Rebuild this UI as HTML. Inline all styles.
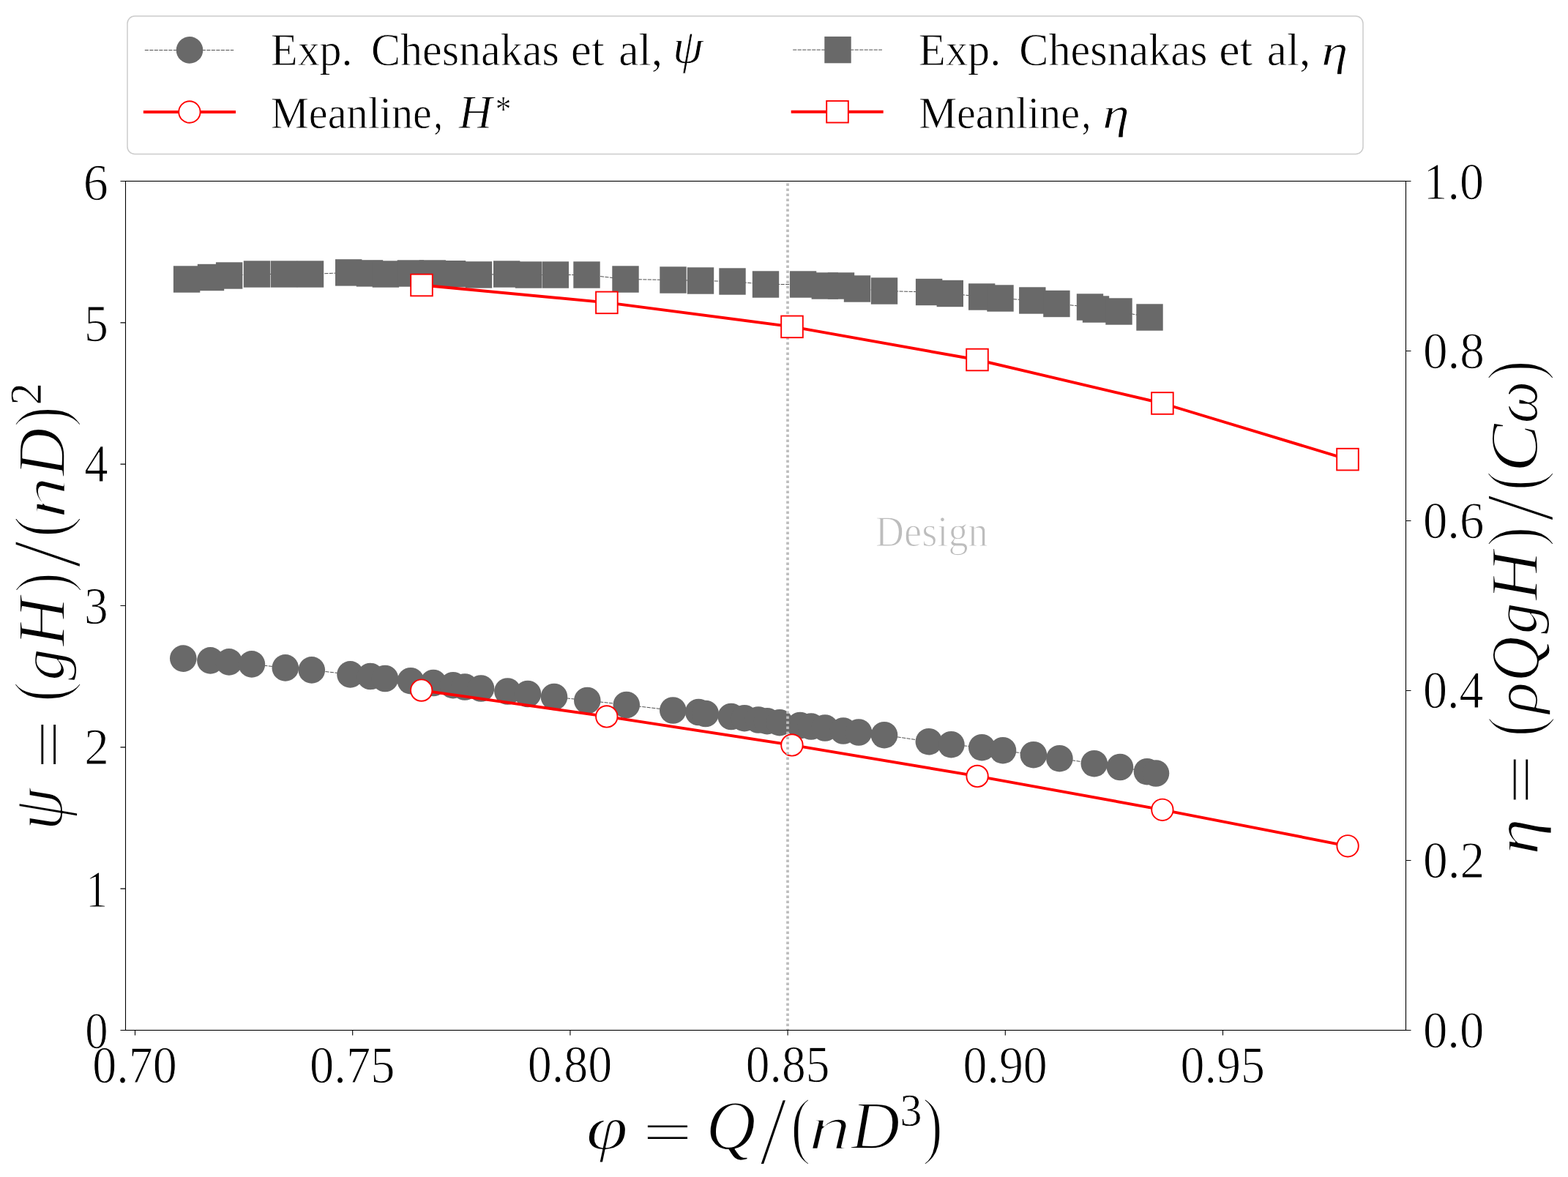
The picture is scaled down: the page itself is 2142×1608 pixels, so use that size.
<!DOCTYPE html><html><head><meta charset="utf-8"><title>plot</title><style>html,body{margin:0;padding:0;background:#fff;overflow:hidden}svg{display:block}text{font-family:"Liberation Serif",serif;text-rendering:geometricPrecision}</style></head><body>
<svg width="2142" height="1608" viewBox="0 0 2142 1608">
<rect width="2142" height="1608" fill="#fff"/>
<polyline points="250.3,899.6 287.4,902.4 312.9,904.4 343.9,907.4 389.8,912.4 425.8,915.4 478.5,921.4 506.0,924.0 526.0,927.0 561.0,930.2 592.0,933.0 619.0,936.2 635.0,938.5 657.0,940.5 693.4,944.5 721.0,948.0 757.0,952.0 802.3,957.0 855.8,963.0 919.3,970.5 954.3,973.0 963.8,975.0 998.8,979.0 1017.0,981.2 1036.0,983.5 1048.0,985.2 1065.0,987.2 1093.0,991.0 1108.0,992.5 1127.0,994.5 1152.0,998.5 1173.0,1000.5 1208.0,1004.2 1268.9,1013.2 1299.4,1017.2 1341.3,1021.2 1370.0,1025.2 1411.9,1031.2 1447.4,1036.2 1494.8,1043.2 1530.0,1048.0 1567.0,1054.2 1579.0,1056.5" fill="none" stroke="#505050" stroke-width="1.0" stroke-dasharray="5.1 1.4"/>
<g fill="#696969"><circle cx="250.3" cy="899.6" r="18.3"/><circle cx="287.4" cy="902.4" r="18.3"/><circle cx="312.9" cy="904.4" r="18.3"/><circle cx="343.9" cy="907.4" r="18.3"/><circle cx="389.8" cy="912.4" r="18.3"/><circle cx="425.8" cy="915.4" r="18.3"/><circle cx="478.5" cy="921.4" r="18.3"/><circle cx="506.0" cy="924.0" r="18.3"/><circle cx="526.0" cy="927.0" r="18.3"/><circle cx="561.0" cy="930.2" r="18.3"/><circle cx="592.0" cy="933.0" r="18.3"/><circle cx="619.0" cy="936.2" r="18.3"/><circle cx="635.0" cy="938.5" r="18.3"/><circle cx="657.0" cy="940.5" r="18.3"/><circle cx="693.4" cy="944.5" r="18.3"/><circle cx="721.0" cy="948.0" r="18.3"/><circle cx="757.0" cy="952.0" r="18.3"/><circle cx="802.3" cy="957.0" r="18.3"/><circle cx="855.8" cy="963.0" r="18.3"/><circle cx="919.3" cy="970.5" r="18.3"/><circle cx="954.3" cy="973.0" r="18.3"/><circle cx="963.8" cy="975.0" r="18.3"/><circle cx="998.8" cy="979.0" r="18.3"/><circle cx="1017.0" cy="981.2" r="18.3"/><circle cx="1036.0" cy="983.5" r="18.3"/><circle cx="1048.0" cy="985.2" r="18.3"/><circle cx="1065.0" cy="987.2" r="18.3"/><circle cx="1093.0" cy="991.0" r="18.3"/><circle cx="1108.0" cy="992.5" r="18.3"/><circle cx="1127.0" cy="994.5" r="18.3"/><circle cx="1152.0" cy="998.5" r="18.3"/><circle cx="1173.0" cy="1000.5" r="18.3"/><circle cx="1208.0" cy="1004.2" r="18.3"/><circle cx="1268.9" cy="1013.2" r="18.3"/><circle cx="1299.4" cy="1017.2" r="18.3"/><circle cx="1341.3" cy="1021.2" r="18.3"/><circle cx="1370.0" cy="1025.2" r="18.3"/><circle cx="1411.9" cy="1031.2" r="18.3"/><circle cx="1447.4" cy="1036.2" r="18.3"/><circle cx="1494.8" cy="1043.2" r="18.3"/><circle cx="1530.0" cy="1048.0" r="18.3"/><circle cx="1567.0" cy="1054.2" r="18.3"/><circle cx="1579.0" cy="1056.5" r="18.3"/></g>
<polyline points="575.7,943.1 828.8,978.9 1081.9,1017.9 1335.1,1060.4 1587.9,1106.3 1841.1,1155.8" fill="none" stroke="#ff0000" stroke-width="3.9" stroke-linejoin="round"/>
<g fill="#fff" stroke="#ff0000" stroke-width="1.9"><circle cx="575.7" cy="943.1" r="14.7"/><circle cx="828.8" cy="978.9" r="14.7"/><circle cx="1081.9" cy="1017.9" r="14.7"/><circle cx="1335.1" cy="1060.4" r="14.7"/><circle cx="1587.9" cy="1106.3" r="14.7"/><circle cx="1841.1" cy="1155.8" r="14.7"/></g>
<line x1="1076" y1="248" x2="1076" y2="1407" stroke="#bdbdbd" stroke-width="3.7" stroke-dasharray="3.6 3.4" stroke-dashoffset="-2.5"/>
<g id="design" transform="matrix(1.03977 0 0 1.02418 -50.815 -17.729)" stroke="#fff" stroke-width="1.2" stroke-linejoin="round"><text x="1273" y="745.7" font-size="58" fill="#bdbdbd" text-anchor="middle" textLength="148" lengthAdjust="spacingAndGlyphs">Design</text></g>
<polyline points="255.1,381.5 288.0,379.0 313.1,376.5 351.0,374.5 388.0,374.5 424.0,374.5 476.2,372.4 505.0,373.4 526.9,374.5 560.9,373.5 590.8,373.5 618.0,374.2 654.0,375.4 692.2,374.5 722.0,375.5 758.8,375.5 801.5,375.5 854.5,381.5 919.5,382.5 957.0,383.5 1000.5,384.5 1046.0,388.5 1097.1,388.5 1126.8,390.5 1149.0,390.5 1171.0,394.5 1208.0,397.5 1269.1,399.0 1297.8,401.0 1341.2,405.5 1366.5,407.5 1410.3,410.5 1443.4,415.0 1489.0,419.5 1497.0,422.5 1528.5,425.5 1570.5,433.5" fill="none" stroke="#505050" stroke-width="1.0" stroke-dasharray="5.1 1.4"/>
<g fill="#696969"><rect x="236.9" y="363.3" width="36.4" height="36.4"/><rect x="269.8" y="360.8" width="36.4" height="36.4"/><rect x="294.9" y="358.3" width="36.4" height="36.4"/><rect x="332.8" y="356.3" width="36.4" height="36.4"/><rect x="369.8" y="356.3" width="36.4" height="36.4"/><rect x="405.8" y="356.3" width="36.4" height="36.4"/><rect x="458.0" y="354.2" width="36.4" height="36.4"/><rect x="486.8" y="355.2" width="36.4" height="36.4"/><rect x="508.7" y="356.3" width="36.4" height="36.4"/><rect x="542.7" y="355.3" width="36.4" height="36.4"/><rect x="572.6" y="355.3" width="36.4" height="36.4"/><rect x="599.8" y="356.0" width="36.4" height="36.4"/><rect x="635.8" y="357.2" width="36.4" height="36.4"/><rect x="674.0" y="356.3" width="36.4" height="36.4"/><rect x="703.8" y="357.3" width="36.4" height="36.4"/><rect x="740.6" y="357.3" width="36.4" height="36.4"/><rect x="783.3" y="357.3" width="36.4" height="36.4"/><rect x="836.3" y="363.3" width="36.4" height="36.4"/><rect x="901.3" y="364.3" width="36.4" height="36.4"/><rect x="938.8" y="365.3" width="36.4" height="36.4"/><rect x="982.3" y="366.3" width="36.4" height="36.4"/><rect x="1027.8" y="370.3" width="36.4" height="36.4"/><rect x="1078.9" y="370.3" width="36.4" height="36.4"/><rect x="1108.6" y="372.3" width="36.4" height="36.4"/><rect x="1130.8" y="372.3" width="36.4" height="36.4"/><rect x="1152.8" y="376.3" width="36.4" height="36.4"/><rect x="1189.8" y="379.3" width="36.4" height="36.4"/><rect x="1250.9" y="380.8" width="36.4" height="36.4"/><rect x="1279.6" y="382.8" width="36.4" height="36.4"/><rect x="1323.0" y="387.3" width="36.4" height="36.4"/><rect x="1348.3" y="389.3" width="36.4" height="36.4"/><rect x="1392.1" y="392.3" width="36.4" height="36.4"/><rect x="1425.2" y="396.8" width="36.4" height="36.4"/><rect x="1470.8" y="401.3" width="36.4" height="36.4"/><rect x="1478.8" y="404.3" width="36.4" height="36.4"/><rect x="1510.3" y="407.3" width="36.4" height="36.4"/><rect x="1552.3" y="415.3" width="36.4" height="36.4"/></g>
<polyline points="576.0,389.5 828.9,413.4 1082.0,446.4 1335.0,491.5 1587.9,551.0 1841.0,627.6" fill="none" stroke="#ff0000" stroke-width="3.9" stroke-linejoin="round"/>
<g fill="#fff" stroke="#ff0000" stroke-width="1.9"><rect x="561.2" y="374.7" width="29.6" height="29.6"/><rect x="814.1" y="398.6" width="29.6" height="29.6"/><rect x="1067.2" y="431.6" width="29.6" height="29.6"/><rect x="1320.2" y="476.7" width="29.6" height="29.6"/><rect x="1573.1" y="536.2" width="29.6" height="29.6"/><rect x="1826.2" y="612.8" width="29.6" height="29.6"/></g>
<rect x="171.5" y="247.5" width="1749" height="1160" fill="none" stroke="#000" stroke-width="1.1"/>
<path d="M164.5 1407.50H171.5 M164.5 1214.17H171.5 M164.5 1020.83H171.5 M164.5 827.50H171.5 M164.5 634.17H171.5 M164.5 440.83H171.5 M164.5 247.50H171.5 M1920.5 1407.50H1927.5 M1920.5 1175.50H1927.5 M1920.5 943.50H1927.5 M1920.5 711.50H1927.5 M1920.5 479.50H1927.5 M1920.5 247.50H1927.5 M184.50 1407.5V1414.5 M481.70 1407.5V1414.5 M778.90 1407.5V1414.5 M1076.10 1407.5V1414.5 M1373.30 1407.5V1414.5 M1670.50 1407.5V1414.5" stroke="#000" stroke-width="1.1" fill="none"/>
<g id="yl0" transform="matrix(0.92102 0 0 1.04095 11.347 -58.043)" stroke="#fff" stroke-width="1.0" stroke-linejoin="round"><text x="148" y="1431.3" font-size="68" text-anchor="end">0</text></g>
<g id="yl1" transform="matrix(0.88700 0 0 1.04742 15.927 -57.965)" stroke="#fff" stroke-width="1.0" stroke-linejoin="round"><text x="148" y="1238.0" font-size="68" text-anchor="end">1</text></g>
<g id="yl2" transform="matrix(0.98680 0 0 1.03750 2.802 -39.451)" stroke="#fff" stroke-width="1.0" stroke-linejoin="round"><text x="148" y="1044.6" font-size="68" text-anchor="end">2</text></g>
<g id="yl3" transform="matrix(0.95990 0 0 1.05475 5.688 -46.089)" stroke="#fff" stroke-width="1.0" stroke-linejoin="round"><text x="148" y="851.3" font-size="68" text-anchor="end">3</text></g>
<g id="yl4" transform="matrix(0.95401 0 0 1.07709 6.380 -50.561)" stroke="#fff" stroke-width="1.0" stroke-linejoin="round"><text x="148" y="658.0" font-size="68" text-anchor="end">4</text></g>
<g id="yl5" transform="matrix(0.96904 0 0 1.05554 4.562 -24.537)" stroke="#fff" stroke-width="1.0" stroke-linejoin="round"><text x="148" y="464.6" font-size="68" text-anchor="end">5</text></g>
<g id="yl6" transform="matrix(1.00395 0 0 1.03714 -0.674 -8.548)" stroke="#fff" stroke-width="1.0" stroke-linejoin="round"><text x="148" y="271.3" font-size="68" text-anchor="end">6</text></g>
<g id="yr0" transform="matrix(0.98218 0 0 1.04078 34.602 -58.326)" stroke="#fff" stroke-width="1.0" stroke-linejoin="round"><text x="1944" y="1431.2" font-size="68">0.0</text></g>
<g id="yr1" transform="matrix(0.99233 0 0 1.04545 14.828 -54.666)" stroke="#fff" stroke-width="1.0" stroke-linejoin="round"><text x="1944" y="1199.2" font-size="68">0.2</text></g>
<g id="yr2" transform="matrix(0.97189 0 0 1.06435 54.637 -62.225)" stroke="#fff" stroke-width="1.0" stroke-linejoin="round"><text x="1944" y="967.2" font-size="68">0.4</text></g>
<g id="yr3" transform="matrix(0.98287 0 0 1.04522 33.243 -33.211)" stroke="#fff" stroke-width="1.0" stroke-linejoin="round"><text x="1944" y="735.2" font-size="68">0.6</text></g>
<g id="yr4" transform="matrix(0.98825 0 0 1.03724 22.768 -18.699)" stroke="#fff" stroke-width="1.0" stroke-linejoin="round"><text x="1944" y="503.2" font-size="68">0.8</text></g>
<g id="yr5" transform="matrix(0.97104 0 0 1.04455 56.779 -11.065)" stroke="#fff" stroke-width="1.0" stroke-linejoin="round"><text x="1944" y="271.2" font-size="68">1.0</text></g>
<g id="xt0" transform="matrix(0.97174 0 0 1.05250 4.715 -77.035)" stroke="#fff" stroke-width="1.0" stroke-linejoin="round"><text x="184.5" y="1478.7" font-size="68" text-anchor="middle">0.70</text></g>
<g id="xt1" transform="matrix(0.97888 0 0 1.05318 9.814 -77.992)" stroke="#fff" stroke-width="1.0" stroke-linejoin="round"><text x="481.7" y="1478.7" font-size="68" text-anchor="middle">0.75</text></g>
<g id="xt2" transform="matrix(0.97070 0 0 1.05366 22.338 -79.668)" stroke="#fff" stroke-width="1.0" stroke-linejoin="round"><text x="778.9" y="1478.7" font-size="68" text-anchor="middle">0.80</text></g>
<g id="xt3" transform="matrix(0.96277 0 0 1.05276 40.048 -78.366)" stroke="#fff" stroke-width="1.0" stroke-linejoin="round"><text x="1076.1" y="1478.7" font-size="68" text-anchor="middle">0.85</text></g>
<g id="xt4" transform="matrix(0.96791 0 0 1.05273 43.896 -77.347)" stroke="#fff" stroke-width="1.0" stroke-linejoin="round"><text x="1373.3" y="1478.7" font-size="68" text-anchor="middle">0.90</text></g>
<g id="xt5" transform="matrix(0.96968 0 0 1.05272 50.328 -77.358)" stroke="#fff" stroke-width="1.0" stroke-linejoin="round"><text x="1670.5" y="1478.7" font-size="68" text-anchor="middle">0.95</text></g>
<g id="xg0" transform="matrix(1.22584 0 0 1.02210 -185.982 -32.673)" stroke="#fff" stroke-width="1.6" stroke-linejoin="round"><text x="804.9" y="1568" font-size="84" font-style="italic">φ</text></g>
<g id="xg1" transform="matrix(1.43075 0 0 0.94070 -388.010 97.674)" stroke="#fff" stroke-width="1.2" stroke-linejoin="round"><text x="884.9" y="1568" font-size="84">=</text></g>
<g id="xg2" transform="matrix(1.12024 0 0 1.14149 -122.902 -219.388)" stroke="#fff" stroke-width="1.6" stroke-linejoin="round"><text x="970.7" y="1568" font-size="84" font-style="italic">Q</text></g>
<g id="xg3" transform="matrix(1.59527 0 0 1.59442 -621.288 -910.447)" stroke="#fff" stroke-width="1.8" stroke-linejoin="round"><text x="1040.0" y="1568" font-size="84">/</text></g>
<g id="xg4" transform="matrix(0.99333 0 0 1.21986 2.287 -341.703)" stroke="#fff" stroke-width="2.4" stroke-linejoin="round"><text x="1085.0" y="1568" font-size="84">(</text></g>
<g id="xg5" transform="matrix(1.40938 0 0 1.04962 -461.182 -75.523)" stroke="#fff" stroke-width="2.4" stroke-linejoin="round"><text x="1110.6" y="1568" font-size="84" font-style="italic">n</text></g>
<g id="xg6" transform="matrix(1.09516 0 0 1.10801 -110.944 -168.697)" stroke="#fff" stroke-width="1.6" stroke-linejoin="round"><text x="1163.0" y="1568" font-size="84" font-style="italic">D</text></g>
<g id="xg7" transform="matrix(0.71430 0 0 0.74964 348.906 362.741)" stroke="#fff" stroke-width="1.0" stroke-linejoin="round"><text x="1232.9" y="1568" font-size="84">3</text></g>
<g id="xg8" transform="matrix(1.02007 0 0 1.22367 -29.480 -347.437)" stroke="#fff" stroke-width="2.4" stroke-linejoin="round"><text x="1263.8" y="1568" font-size="84">)</text></g>
<g id="yg0" transform="matrix(1.17618 0 0 1.10819 -17.097 -115.622)" stroke="#fff" stroke-width="1.6" stroke-linejoin="round"><text transform="translate(87 1128.0) rotate(-90)" font-size="84" font-style="italic">ψ</text></g>
<g id="yg1" transform="matrix(0.99595 0 0 1.42503 7.200 -436.646)" stroke="#fff" stroke-width="1.2" stroke-linejoin="round"><text transform="translate(87 1043.7) rotate(-90)" font-size="84">=</text></g>
<g id="yg2" transform="matrix(1.22821 0 0 0.99742 -16.365 7.558)" stroke="#fff" stroke-width="2.4" stroke-linejoin="round"><text transform="translate(87 953.9) rotate(-90)" font-size="84">(</text></g>
<g id="yg3" transform="matrix(1.00126 0 0 1.03228 0.149 -28.896)" stroke="#fff" stroke-width="1.6" stroke-linejoin="round"><text transform="translate(87 928.7) rotate(-90)" font-size="84" font-style="italic">g</text></g>
<g id="yg4" transform="matrix(1.10778 0 0 1.10632 -8.357 -93.682)" stroke="#fff" stroke-width="1.6" stroke-linejoin="round"><text transform="translate(87 882.8) rotate(-90)" font-size="84" font-style="italic">H</text></g>
<g id="yg5" transform="matrix(1.22772 0 0 1.00366 -16.212 1.159)" stroke="#fff" stroke-width="2.4" stroke-linejoin="round"><text transform="translate(87 806.0) rotate(-90)" font-size="84">)</text></g>
<g id="yg6" transform="matrix(1.60464 0 0 1.60251 -30.279 -463.906)" stroke="#fff" stroke-width="1.8" stroke-linejoin="round"><text transform="translate(87 773.6) rotate(-90)" font-size="84">/</text></g>
<g id="yg7" transform="matrix(1.22078 0 0 1.05935 -16.203 -37.971)" stroke="#fff" stroke-width="2.4" stroke-linejoin="round"><text transform="translate(87 729.1) rotate(-90)" font-size="84">(</text></g>
<g id="yg8" transform="matrix(1.03165 0 0 1.41851 -0.335 -287.385)" stroke="#fff" stroke-width="2.4" stroke-linejoin="round"><text transform="translate(87 702.7) rotate(-90)" font-size="84" font-style="italic">n</text></g>
<g id="yg9" transform="matrix(1.10523 0 0 1.08544 -8.264 -55.361)" stroke="#fff" stroke-width="1.6" stroke-linejoin="round"><text transform="translate(87 650.2) rotate(-90)" font-size="84" font-style="italic">D</text></g>
<g id="yg10" transform="matrix(1.21695 0 0 1.03356 -15.635 -15.249)" stroke="#fff" stroke-width="2.4" stroke-linejoin="round"><text transform="translate(87 579.6) rotate(-90)" font-size="84">)</text></g>
<g id="yg11" transform="matrix(0.73188 0 0 0.72658 -7.443 153.568)" stroke="#fff" stroke-width="1.0" stroke-linejoin="round"><text transform="translate(87 550.3) rotate(-90)" font-size="84">2</text></g>
<g id="rg0" transform="matrix(1.03011 0 0 1.20064 -61.651 -228.511)" stroke="#fff" stroke-width="1.6" stroke-linejoin="round"><text transform="translate(2099 1163.2) rotate(-90)" font-size="84" font-style="italic">η</text></g>
<g id="rg1" transform="matrix(0.98632 0 0 1.45179 34.618 -486.512)" stroke="#fff" stroke-width="1.2" stroke-linejoin="round"><text transform="translate(2099 1092.4) rotate(-90)" font-size="84">=</text></g>
<g id="rg2" transform="matrix(1.22445 0 0 1.00531 -467.428 -0.274)" stroke="#fff" stroke-width="2.4" stroke-linejoin="round"><text transform="translate(2099 1001.7) rotate(-90)" font-size="84">(</text></g>
<g id="rg3" transform="matrix(1.00971 0 0 1.05843 -19.237 -58.261)" stroke="#fff" stroke-width="1.6" stroke-linejoin="round"><text transform="translate(2099 976.1) rotate(-90)" font-size="84" font-style="italic">ρ</text></g>
<g id="rg4" transform="matrix(1.13185 0 0 1.01806 -274.177 -11.069)" stroke="#fff" stroke-width="1.6" stroke-linejoin="round"><text transform="translate(2099 925.7) rotate(-90)" font-size="84" font-style="italic">Q</text></g>
<g id="rg5" transform="matrix(0.99426 0 0 1.01786 12.140 -14.499)" stroke="#fff" stroke-width="1.6" stroke-linejoin="round"><text transform="translate(2099 865.3) rotate(-90)" font-size="84" font-style="italic">g</text></g>
<g id="rg6" transform="matrix(1.10197 0 0 1.10914 -213.417 -89.246)" stroke="#fff" stroke-width="1.6" stroke-linejoin="round"><text transform="translate(2099 819.9) rotate(-90)" font-size="84" font-style="italic">H</text></g>
<g id="rg7" transform="matrix(1.21837 0 0 0.97299 -455.244 24.036)" stroke="#fff" stroke-width="2.4" stroke-linejoin="round"><text transform="translate(2099 742.7) rotate(-90)" font-size="84">)</text></g>
<g id="rg8" transform="matrix(1.59658 0 0 1.55517 -1229.860 -392.083)" stroke="#fff" stroke-width="1.8" stroke-linejoin="round"><text transform="translate(2099 710.0) rotate(-90)" font-size="84">/</text></g>
<g id="rg9" transform="matrix(1.22629 0 0 0.96474 -471.798 28.157)" stroke="#fff" stroke-width="2.4" stroke-linejoin="round"><text transform="translate(2099 665.5) rotate(-90)" font-size="84">(</text></g>
<g id="rg10" transform="matrix(1.11264 0 0 1.18725 -235.894 -112.980)" stroke="#fff" stroke-width="1.6" stroke-linejoin="round"><text transform="translate(2099 638.6) rotate(-90)" font-size="84" font-style="italic">C</text></g>
<g id="rg11" transform="matrix(1.01649 0 0 0.97539 -33.418 17.799)" stroke="#fff" stroke-width="1.6" stroke-linejoin="round"><text transform="translate(2099 574.8) rotate(-90)" font-size="84" font-style="italic">ω</text></g>
<g id="rg12" transform="matrix(1.22463 0 0 0.99331 -468.436 7.497)" stroke="#fff" stroke-width="2.4" stroke-linejoin="round"><text transform="translate(2099 516.0) rotate(-90)" font-size="84">)</text></g>
<rect x="174" y="22" width="1688" height="188.5" rx="10" ry="10" fill="#fff" fill-opacity="0.8" stroke="#cccccc" stroke-width="1.5"/>
<line x1="197.8" y1="68.5" x2="319.2" y2="68.5" stroke="#505050" stroke-width="1.0" stroke-dasharray="5.1 1.4"/>
<circle cx="259" cy="68.4" r="18.3" fill="#696969"/>
<line x1="195.9" y1="153" x2="322" y2="153" stroke="#ff0000" stroke-width="3.9"/>
<circle cx="258.9" cy="153" r="14.7" fill="#fff" stroke="#ff0000" stroke-width="1.9"/>
<line x1="1083.2" y1="68.1" x2="1205" y2="68.1" stroke="#505050" stroke-width="1.0" stroke-dasharray="5.1 1.4"/>
<rect x="1126.3" y="49.9" width="36.4" height="36.4" fill="#696969"/>
<line x1="1080.7" y1="152.7" x2="1206.7" y2="152.7" stroke="#ff0000" stroke-width="3.9"/>
<rect x="1129.2" y="137.9" width="29.6" height="29.6" fill="#fff" stroke="#ff0000" stroke-width="1.9"/>
<g id="L1a" transform="matrix(0.96719 0 0 1.00964 10.318 -0.498)" stroke="#fff" stroke-width="0.8" stroke-linejoin="round"><text x="371.9" y="89" font-size="62">Exp.</text></g>
<g id="L1b" transform="matrix(0.96926 0 0 1.00964 12.763 -0.498)" stroke="#fff" stroke-width="0.8" stroke-linejoin="round"><text x="509.8" y="89" font-size="62">Chesnakas</text></g>
<g id="L1c" transform="matrix(1.02273 0 0 1.00964 -20.731 -0.498)" stroke="#fff" stroke-width="0.8" stroke-linejoin="round"><text x="782.8" y="89" font-size="62">et</text></g>
<g id="L1d" transform="matrix(0.99438 0 0 1.00964 2.129 -0.498)" stroke="#fff" stroke-width="0.8" stroke-linejoin="round"><text x="847.9" y="89" font-size="62">al,</text></g>
<g id="L1e" transform="matrix(1.08128 0 0 1.07357 -79.730 -9.334)" stroke="#fff" stroke-width="0.8" stroke-linejoin="round"><text x="923.7" y="89" font-size="62" font-style="italic">ψ</text></g>
<g id="R1a" transform="matrix(0.97159 0 0 1.00964 33.631 -0.498)" stroke="#fff" stroke-width="0.8" stroke-linejoin="round"><text x="1257.2" y="89" font-size="62">Exp.</text></g>
<g id="R1b" transform="matrix(0.96928 0 0 1.00964 40.198 -0.498)" stroke="#fff" stroke-width="0.8" stroke-linejoin="round"><text x="1395.0" y="89" font-size="62">Chesnakas</text></g>
<g id="R1c" transform="matrix(1.03160 0 0 1.00964 -55.538 -0.498)" stroke="#fff" stroke-width="0.8" stroke-linejoin="round"><text x="1668.0" y="89" font-size="62">et</text></g>
<g id="R1d" transform="matrix(0.98857 0 0 1.00964 17.382 -0.498)" stroke="#fff" stroke-width="0.8" stroke-linejoin="round"><text x="1733.2" y="89" font-size="62">al,</text></g>
<g id="R1e" transform="matrix(1.17476 0 0 0.96181 -319.647 3.744)" stroke="#fff" stroke-width="0.8" stroke-linejoin="round"><text x="1808.9" y="89" font-size="62" font-style="italic">η</text></g>
<g id="L2a" transform="matrix(0.93916 0 0 0.99099 20.801 2.132)" stroke="#fff" stroke-width="0.8" stroke-linejoin="round"><text x="371.9" y="174" font-size="62">Meanline</text></g>
<g id="L2d" transform="matrix(0.81597 0 0 0.99099 107.136 2.132)" stroke="#fff" stroke-width="0.8" stroke-linejoin="round"><text x="594.5" y="174" font-size="62">,</text></g>
<g id="L2b" transform="matrix(1.01721 0 0 1.04476 -10.254 -7.242)" stroke="#fff" stroke-width="0.8" stroke-linejoin="round"><text x="626.2" y="174" font-size="62" font-style="italic">H</text></g>
<g id="L2c" transform="matrix(0.69944 0 0 0.82089 201.430 23.602)" stroke="#fff" stroke-width="0.8" stroke-linejoin="round"><text x="679.7" y="174" font-size="62">*</text></g>
<g id="R2a" transform="matrix(0.93924 0 0 0.99099 74.378 2.132)" stroke="#fff" stroke-width="0.8" stroke-linejoin="round"><text x="1257.2" y="174" font-size="62">Meanline</text></g>
<g id="R2d" transform="matrix(0.83137 0 0 0.99099 247.192 2.132)" stroke="#fff" stroke-width="0.8" stroke-linejoin="round"><text x="1479.8" y="174" font-size="62">,</text></g>
<g id="R2b" transform="matrix(1.18581 0 0 0.96804 -283.989 6.431)" stroke="#fff" stroke-width="0.8" stroke-linejoin="round"><text x="1509.8" y="174" font-size="62" font-style="italic">η</text></g>
</svg></body></html>
